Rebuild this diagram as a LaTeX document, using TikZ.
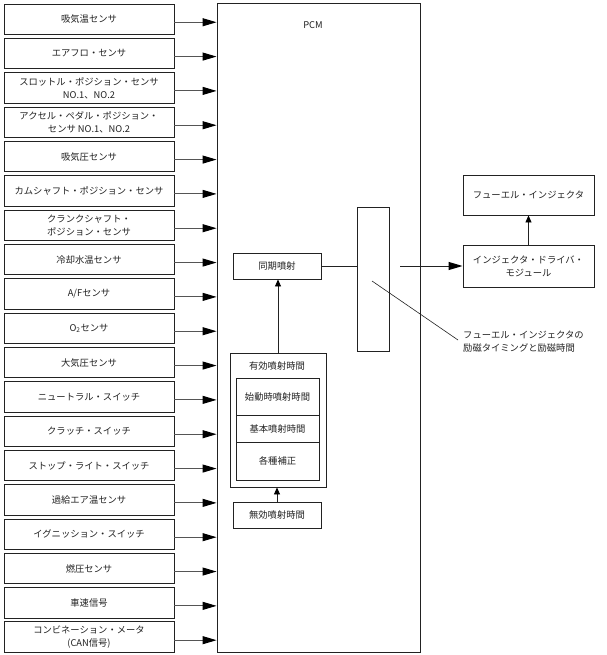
\documentclass[tikz,border=0pt]{standalone}
\usepackage{fontspec}
\setmainfont{Noto Sans CJK JP}
\usepackage{xcolor}
\usetikzlibrary{arrows.meta}
\definecolor{C0}{HTML}{222222}
\definecolor{C7}{HTML}{555555}
\tikzset{
  box/.style={draw=C0, line width=0.9pt, fill=white, align=center, inner sep=1pt, text=C0, font=\fontsize{9.3}{13}\selectfont},
  sensor/.style={box, minimum width=170, minimum height=30.5},
  label/.style={text=C0, inner sep=1pt, font=\fontsize{9.3}{13}\selectfont},
  sig/.style={-{Triangle[length=14pt,width=8pt,color=black]}, C7, line width=1pt},
  up/.style={-{Triangle[length=7pt,width=6pt,color=black]}, C0, line width=0.8pt},
}

\begin{document}
\begin{tikzpicture}[x=1pt,y=-1pt]
\useasboundingbox (0,0) rectangle (606,655);
\node[box, minimum width=203, minimum height=649] (pcm) at (318.5,327.5) {};
\node[label] (pcmlabel) at (313,25) {PCM};
% sensors
\foreach \txt [count=\i] in {吸気温センサ, エアフロ・センサ, {スロットル・ポジション・センサ\\NO.1、NO.2},
  {アクセル・ペダル・ポジション・\\センサ NO.1、NO.2}, 吸気圧センサ, カムシャフト・ポジション・センサ,
  {クランクシャフト・\\ポジション・センサ}, 冷却水温センサ, A/Fセンサ, O\textsubscript{2}センサ, 大気圧センサ,
  ニュートラル・スイッチ, クラッチ・スイッチ, ストップ・ライト・スイッチ, 過給エア温センサ,
  イグニッション・スイッチ, 燃圧センサ, 車速信号, {コンビネーション・メータ\\(CAN信号)}}
{
  \node[sensor] (s\i) at (89,{19.25+34.33*(\i-1)}) {\txt};
  \draw[sig] ([yshift=-3pt]s\i.east) -- ([yshift=-3pt]s\i.east -| pcm.west);
}
% injection time
\node[box, minimum width=88, minimum height=26] (sync) at (277,266) {同期噴射};
\node[box, minimum width=96, minimum height=134] (eff) at (278,420) {};
\node[label] (efflabel) at (277,366) {有効噴射時間};
\node[box, minimum width=83, minimum height=37] (start) at (277.5,396.5) {始動時噴射時間};
\node[box, minimum width=83, minimum height=27] (base) at (277.5,428.5) {基本噴射時間};
\node[box, minimum width=83, minimum height=38] (corr) at (277.5,461) {各種補正};
\node[box, minimum width=88, minimum height=26] (inv) at (277,515) {無効噴射時間};
\draw[up] (inv.north) -- (inv.north |- eff.south);
\draw[up] (eff.north) -- (eff.north |- sync.south);
\node[box, minimum width=32, minimum height=144] (gate) at (373,279) {};
\draw[C0, line width=0.8pt] (sync.east) -- (sync.east -| gate.west);
% injector
\node[box, minimum width=131, minimum height=42] (drv) at (528.5,266) {インジェクタ・ドライバ・\\モジュール};
\node[box, minimum width=131, minimum height=40] (inj) at (528.5,195) {フューエル・インジェクタ};
\coordinate (out) at (400,266);
\draw[sig, C0] (out) -- (drv.west);
\draw[up] (drv.north) -- (inj.south);
\coordinate (tick) at (372,281);
\coordinate (tickend) at (458,340);
\draw[C0, line width=0.6pt] (tick) -- (tickend);
\node[label, anchor=west, align=left] (note) at (462,342) {フューエル・インジェクタの\\励磁タイミングと励磁時間};
\end{tikzpicture}
\end{document}
